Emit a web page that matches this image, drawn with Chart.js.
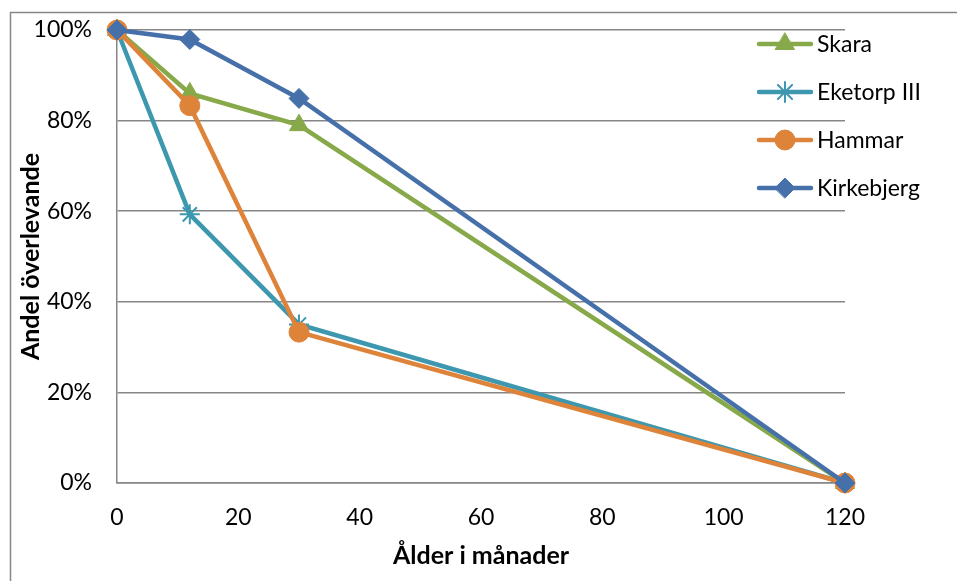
<!DOCTYPE html>
<html>
<head>
<meta charset="utf-8">
<script src="https://cdn.jsdelivr.net/npm/chart.js@4/dist/chart.umd.min.js"></script>
<style>
  html, body { margin: 0; padding: 0; background: #fff; }
  #wrap { width: 957px; height: 581px; }
</style>
</head>
<body>
<div id="wrap"><canvas id="chart" width="957" height="581"></canvas></div>
<script>
// Ålder i månader
const ages = [0, 12, 30, 120];
const skara = [100, 86, 79, 0];
const eketorp = [100, 59.3, 35, 0];
const hammar = [100, 83.3, 33.3, 0];
const kirkebjerg = [100, 97.9, 84.9, 0];
const xTicks = [0, 20, 40, 60, 80, 100, 120];
const yTicks = [0, 20, 40, 60, 80, 100];

const FONT = "Lato, 'Open Sans', sans-serif";
const GRID = '#868686';

const pts = arr => arr.map((v, i) => ({ x: ages[i], y: v }));

function serie(label, data, color, style, radius, order) {
    return {
        label, data: pts(data),
        borderColor: color, backgroundColor: color,
        borderWidth: 4.5, pointStyle: style, pointRadius: radius,
        pointBorderWidth: style === 'star' ? 2 : 1,
        pointBorderColor: color, pointBackgroundColor: color,
        order, tension: 0, clip: false
    };
}

const datasets = [
    serie('Skara', skara, '#87A94A', 'triangle', 11, 3),
    serie('Eketorp III', eketorp, '#3D98AF', 'star', 10, 2),
    serie('Hammar', hammar, '#DE833A', 'circle', 10, 1),
    serie('Kirkebjerg', kirkebjerg, '#4670A9', 'rectRot', 10, 0)
];

// ram runt hela diagrammet
const frame = {
    id: 'frame',
    beforeDraw(chart) {
        const c = chart.ctx;
        c.save();
        c.strokeStyle = GRID;
        c.lineWidth = 1.5;
        c.beginPath();
        c.moveTo(10.5, chart.height + 5);
        c.lineTo(10.5, 12.5);
        c.lineTo(chart.width + 5, 12.5);
        c.stroke();
        c.restore();
    }
};

// egen legend ovanpå ritytan
const legendBox = {
    id: 'legendBox',
    afterDraw(chart) {
        const c = chart.ctx;
        c.save();
        chart.data.datasets.forEach((ds, i) => {
            const y = 44 + i * 48;
            c.strokeStyle = ds.borderColor;
            c.lineWidth = 4.5;
            c.lineCap = 'round';
            c.beginPath();
            c.moveTo(759, y);
            c.lineTo(811, y);
            c.stroke();
            c.fillStyle = ds.borderColor;
            c.lineWidth = ds.pointBorderWidth;
            Chart.helpers.drawPoint(c, {
                pointStyle: ds.pointStyle, radius: ds.pointRadius,
                rotation: 0, borderWidth: ds.pointBorderWidth
            }, 785, y);
            c.fillStyle = '#000';
            c.font = '23px ' + FONT;
            c.textBaseline = 'middle';
            c.fillText(ds.label, 817, y + 1);
        });
        c.restore();
    }
};

new Chart(document.getElementById('chart'), {
    type: 'line',
    data: { datasets },
    options: {
        responsive: false,
        animation: false,
        layout: { padding: { top: 30, right: 112, left: 0, bottom: 0 } },
        plugins: { legend: { display: false }, tooltip: { enabled: false } },
        scales: {
            x: {
                type: 'linear', min: 0, max: 120,
                afterBuildTicks: s => { s.ticks = xTicks.map(v => ({ value: v })); },
                afterFit: s => { s.height = 98; s.paddingLeft = 0; s.paddingRight = 0; },
                grid: { display: false, drawTicks: false },
                border: { color: GRID, width: 1.5 },
                ticks: { padding: 21, color: '#000', font: { family: FONT, size: 23 } },
                title: {
                    display: true, text: 'Ålder i månader', color: '#000',
                    font: { family: FONT, size: 25, weight: 'bold' }, padding: 10
                }
            },
            y: {
                min: 0, max: 100,
                afterBuildTicks: s => { s.ticks = yTicks.map(v => ({ value: v })); },
                afterFit: s => { s.width = 117; s.paddingTop = 0; s.paddingBottom = 0; },
                grid: { color: GRID, lineWidth: 1.5, drawTicks: false },
                border: { color: GRID, width: 1.5 },
                ticks: {
                    padding: 25, color: '#000', font: { family: FONT, size: 23 },
                    callback: v => v + '%'
                },
                title: {
                    display: true, text: 'Andel överlevande', color: '#000',
                    font: { family: FONT, size: 25, weight: 'bold' }, padding: 16
                }
            }
        }
    },
    plugins: [frame, legendBox]
});
</script>
</body>
</html>
